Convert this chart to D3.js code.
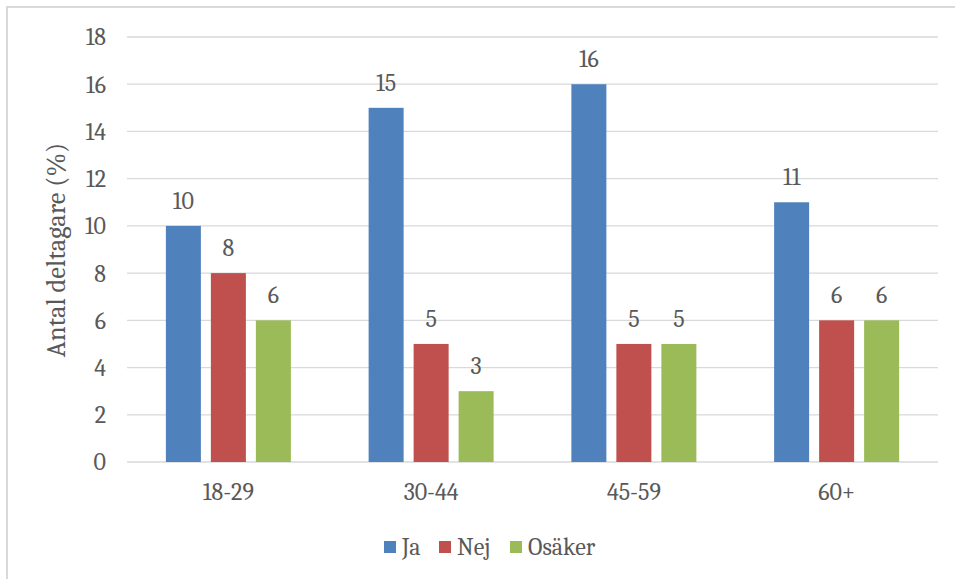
<!DOCTYPE html>
<html>
<head>
<meta charset="utf-8">
<script src="https://cdn.jsdelivr.net/npm/d3@7"></script>
<style>
  body { margin: 0; background: #fff; }
  svg text { font-family: Cambria, "DejaVu Serif", serif; fill: #595959; }
</style>
</head>
<body>
<div id="chart"></div>
<script>
const categories = ['18-29', '30-44', '45-59', '60+']
const seriesNames = ['Ja', 'Nej', 'Osäker']
const ja = [10, 15, 16, 11]
const nej = [8, 5, 5, 6]
const osaker = [6, 3, 5, 6]
const yTicks = [0, 2, 4, 6, 8, 10, 12, 14, 16, 18]
const colors = ['#4f81bd', '#c0504d', '#9bbb59']

const width = 955
const height = 579
const values = [ja, nej, osaker]

const svg = d3
  .select('#chart')
  .append('svg')
  .attr('width', width)
  .attr('height', height)

// chart frame
svg.append('rect')
  .attr('x', 7).attr('y', 7)
  .attr('width', width).attr('height', height)
  .attr('fill', 'none')
  .attr('stroke', '#d9d9d9')
  .attr('stroke-width', 2)

const plot = { left: 127, right: 938, top: 37, bottom: 462 }

const x0 = d3.scaleBand().domain(categories).range([plot.left, plot.right])
const x1 = d3.scaleBand().domain(seriesNames).range([-67.5, 67.5])
  .paddingInner(0.222).paddingOuter(0.111)
const y = d3.scaleLinear().domain([0, 18]).range([plot.bottom, plot.top])

// gridlines
svg.append('g')
  .selectAll('line')
  .data(yTicks)
  .enter()
  .append('line')
  .attr('x1', plot.left).attr('x2', plot.right)
  .attr('y1', (d) => y(d)).attr('y2', (d) => y(d))
  .attr('stroke', '#d9d9d9')
  .attr('stroke-width', 1.3)

// y tick labels
svg.append('g')
  .selectAll('text')
  .data(yTicks)
  .enter()
  .append('text')
  .attr('x', 106)
  .attr('y', (d) => y(d))
  .attr('dy', '0.35em')
  .attr('text-anchor', 'end')
  .style('font-size', '24px')
  .text((d) => d)

// axis title
svg.append('text')
  .attr('transform', 'translate(65,250) rotate(-90)')
  .attr('text-anchor', 'middle')
  .style('font-size', '26.5px')
  .text('Antal deltagare (%)')

// bars
const groups = svg.append('g')
  .selectAll('g')
  .data(categories)
  .enter()
  .append('g')
  .attr('transform', (d) => `translate(${x0(d) + x0.bandwidth() / 2},0)`)

seriesNames.forEach((s, si) => {
  groups.append('rect')
    .attr('x', (d, i) => x1(s))
    .attr('y', (d, i) => y(values[si][i]))
    .attr('width', x1.bandwidth())
    .attr('height', (d, i) => y(0) - y(values[si][i]))
    .attr('fill', colors[si])

  groups.append('text')
    .attr('x', (d, i) => x1(s) + x1.bandwidth() / 2)
    .attr('y', (d, i) => y(values[si][i]) - 17)
    .attr('text-anchor', 'middle')
    .style('font-size', '24px')
    .text((d, i) => values[si][i])
})

// category labels
svg.append('g')
  .selectAll('text')
  .data(categories)
  .enter()
  .append('text')
  .attr('x', (d) => x0(d) + x0.bandwidth() / 2)
  .attr('y', 500)
  .attr('text-anchor', 'middle')
  .style('font-size', '24px')
  .text((d) => d)

// legend
const legendX = [384, 439, 510]
const legend = svg.append('g')
  .selectAll('g')
  .data(seriesNames)
  .enter()
  .append('g')
  .attr('transform', (d, i) => `translate(${legendX[i]},541)`)

legend.append('rect')
  .attr('width', 12).attr('height', 12)
  .attr('fill', (d, i) => colors[i])

legend.append('text')
  .attr('x', 18)
  .attr('y', 6)
  .attr('dy', '0.35em')
  .style('font-size', '24px')
  .text((d) => d)
</script>
</body>
</html>
